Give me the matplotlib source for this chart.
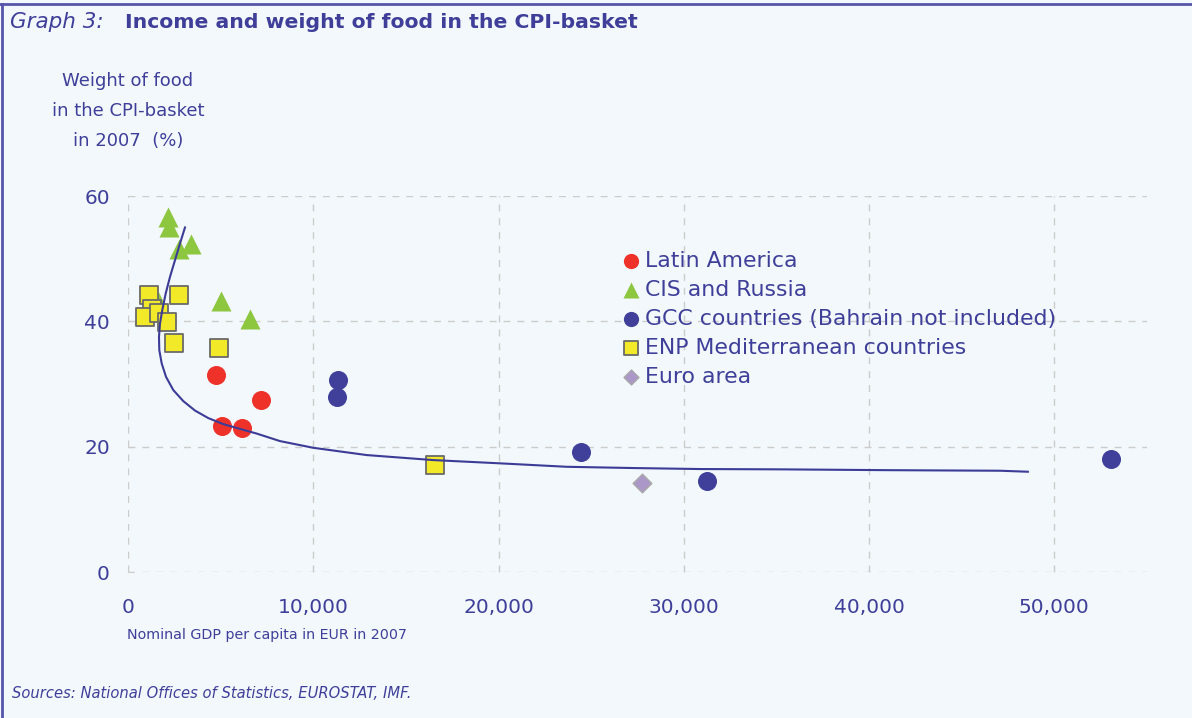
import matplotlib.pyplot as plt
from matplotlib.lines import Line2D
from matplotlib.ticker import FuncFormatter

# values (GDP per capita in EUR, food weight in %)
latam_gdp = [4750, 5070, 6150, 7180]
latam_food = [31.4, 23.3, 23.0, 27.4]

cis_gdp = [2140, 2200, 2770, 3400, 5000, 6600, 860, 1640]
cis_food = [56.6, 55.0, 51.6, 52.3, 43.3, 40.3, 41.1, 43.2]

gcc_gdp = [11330, 11280, 24450, 31250, 53050]
gcc_food = [30.6, 27.9, 19.1, 14.5, 18.0]

enp_gdp = [1150, 2770, 1310, 900, 1690, 2090, 2500, 4900, 16570]
enp_food = [44.2, 44.2, 41.9, 40.7, 41.4, 39.9, 36.6, 35.7, 17.1]

euro_gdp = [27740]
euro_food = [14.2]

# fitted trend line as drawn in the original
trend_gdp = [3076, 2806, 2537, 2267, 2035, 1851, 1727, 1673, 1689, 1819, 2051,
             2445, 2985, 3616, 4334, 5143, 6136, 6946, 8203, 10000, 12882,
             16476, 20076, 23675, 27270, 30869, 35186, 41000, 47059, 48570]
trend_food = [54.98, 52.42, 49.76, 47.10, 44.45, 41.79, 39.66, 37.53, 35.41,
              33.28, 31.15, 29.03, 27.27, 25.76, 24.56, 23.60, 22.76, 22.09,
              20.89, 19.82, 18.66, 17.86, 17.34, 16.79, 16.59, 16.43, 16.38,
              16.25, 16.16, 16.0]

bg = '#F2F8FC'
txt = '#3F3F99'
grid_col = '#CCCCCC'

fig = plt.figure(figsize=(11.92, 7.18), dpi=100, facecolor=bg)
ax = fig.add_axes([128/1192, 1-572/718, 1019/1192, 376/718])
ax.set_facecolor(bg)

ax.scatter(cis_gdp, cis_food, marker='^', s=14.4**2, color='#8DC63F', linewidths=0,
           label='CIS and Russia', zorder=3)
ax.scatter(latam_gdp, latam_food, marker='o', s=13.7**2, color='#EE3229', linewidths=0,
           label='Latin America', zorder=3)
ax.scatter(gcc_gdp, gcc_food, marker='o', s=13.7**2, color='#40409A', linewidths=0,
           label='GCC countries (Bahrain not included)', zorder=3)
ax.scatter(enp_gdp, enp_food, marker='s', s=12.3**2, color='#F2E928', edgecolors='#6A6A6A',
           linewidths=1.3, label='ENP Mediterranean countries', zorder=4)
ax.scatter(euro_gdp, euro_food, marker='D', s=9.5**2, color='#AC98C8', edgecolors='#A8A8A8',
           linewidths=1, label='Euro area', zorder=3)
ax.plot(trend_gdp, trend_food, color='#3C3C96', lw=1.5, zorder=5)

ax.set_xlim(0, 55000)
ax.set_ylim(0, 60)
ax.set_xticks(range(0, 50001, 10000))
ax.set_yticks([0, 20, 40, 60])
ax.xaxis.set_major_formatter(FuncFormatter(lambda v, p: f'{v:,.0f}'))
for s in ax.spines.values():
    s.set_visible(False)
ax.grid(True, color=grid_col, linestyle=(0, (5, 5)), lw=1)
ax.set_axisbelow(True)
ax.tick_params(axis='both', direction='in', length=4, color=grid_col,
               labelcolor=txt, labelsize=14.5)
ax.tick_params(axis='x', pad=19)
ax.tick_params(axis='y', pad=13)

h, l = ax.get_legend_handles_labels()
order = [1, 0, 2, 3, 4]
ax.legend([h[i] for i in order], [l[i] for i in order], loc='upper left',
          bbox_to_anchor=(0.475, 0.877), frameon=False, fontsize=15.8, labelcolor=txt,
          handletextpad=0.2, labelspacing=0.41, borderaxespad=0, markerscale=0.8,
          handlelength=0.9)

fig.text(10/1192, 1-22/718, 'Graph 3:', style='italic', fontsize=15.5, color=txt, va='center')
fig.text(125/1192, 1-22/718, 'Income and weight of food in the CPI-basket', weight='bold',
         fontsize=14.7, color=txt, va='center')
fig.text(128/1192, 1-111/718, 'Weight of food\nin the CPI-basket\nin 2007  (%)', ha='center',
         va='center', linespacing=1.85, fontsize=13, color=txt)
fig.text(127/1192, 1-635/718, 'Nominal GDP per capita in EUR in 2007', fontsize=10.3,
         color=txt, va='center')
fig.text(12/1192, 1-694/718, 'Sources: National Offices of Statistics, EUROSTAT, IMF.',
         style='italic', fontsize=10.6, color=txt, va='center')

fig.add_artist(Line2D([0, 1], [1-3.5/718, 1-3.5/718], color='#5555AA', lw=2))
fig.add_artist(Line2D([1.5/1192, 1.5/1192], [0, 1-3.5/718], color='#5555AA', lw=2))

plt.savefig('out.png', dpi=100, facecolor=bg)
plt.close()
